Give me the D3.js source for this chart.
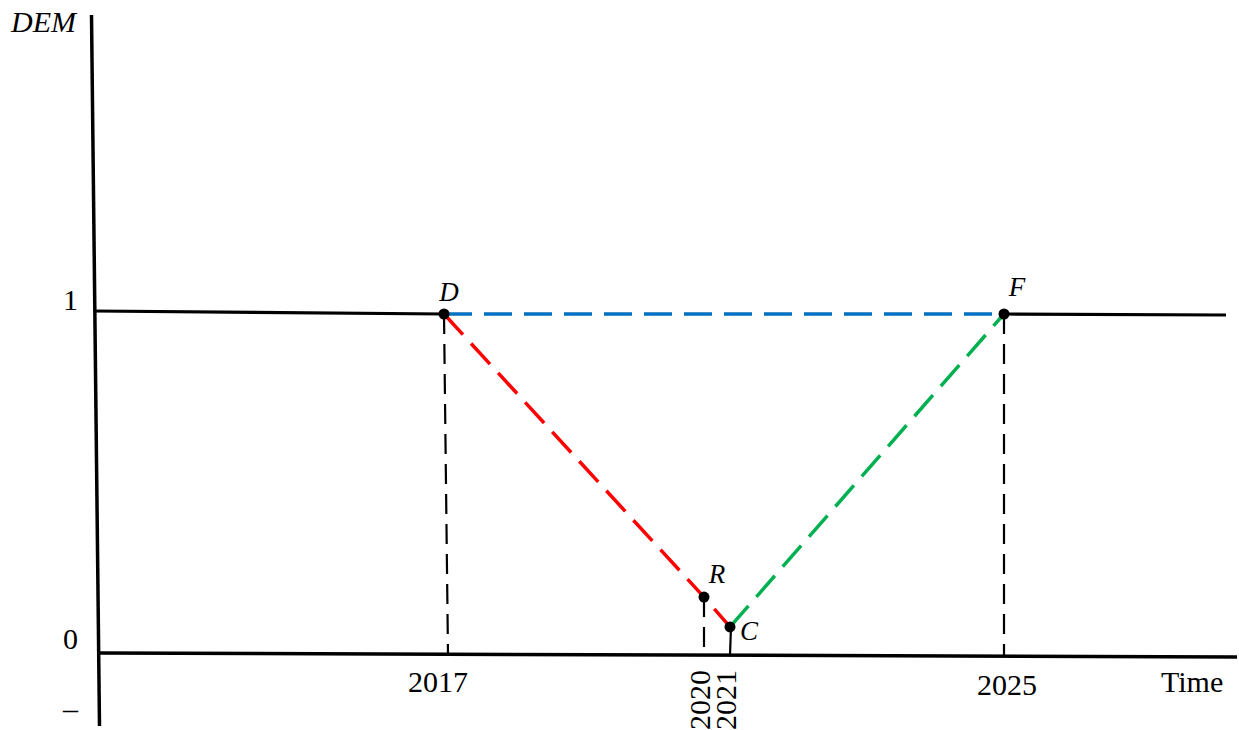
<!DOCTYPE html>
<html>
<head>
<meta charset="utf-8">
<script src="https://cdn.jsdelivr.net/npm/d3@7"></script>
<style>
  html, body { margin: 0; padding: 0; background: #fff; }
  svg { display: block; }
  text { font-family: "Liberation Serif", "Times New Roman", serif; fill: #000; }
</style>
</head>
<body>
<svg id="chart" width="1239" height="730"></svg>
<script>
// ---- data ----
const pointNames = ["D", "R", "C", "F"];
const pointYears = [2017, 2020, 2021, 2025];
const demValues  = [1, 0.165, 0.077, 1];
const xTickYears  = [2017, 2020, 2021, 2025];
const xTickLabels = ["2017", "2020", "2021", "2025"];
const xTickRotated = [false, true, true, false];
const yTickValues = [1, 0, -0.19];
const yTickLabels = ["1", "0", "\u2013"];
const yAxisTitle = "DEM";
const xAxisTitle = "Time";
const pointLabelOffsets = [[5, -13], [13, -14], [19, 13], [13, -18]];

// ---- scales (schematic, piecewise time axis) ----
const x = d3.scaleLinear().domain([2017, 2020, 2021, 2025]).range([444, 704, 730, 1004]);
const y = d3.scaleLinear().domain([0, 1]).range([653, 314]);

const svg = d3.select("#chart");
const pts = pointNames.map((n, i) => ({ name: n, year: pointYears[i], v: demValues[i], off: pointLabelOffsets[i] }));
const P = Object.fromEntries(pts.map(p => [p.name, p]));
const line = d3.line().x(d => x(d.year)).y(d => y(d.v));

// ---- axes frame ----
svg.append("line").attr("x1", 91.5).attr("y1", 15).attr("x2", 99.5).attr("y2", 726)
  .attr("stroke", "#000").attr("stroke-width", 3.5);
svg.append("line").attr("x1", 99).attr("y1", y(0)).attr("x2", 1237).attr("y2", y(0) + 4)
  .attr("stroke", "#000").attr("stroke-width", 3.5);

// solid level lines at DEM = 1
svg.append("line").attr("x1", 94).attr("y1", y(1) - 3).attr("x2", x(P.D.year)).attr("y2", y(1))
  .attr("stroke", "#000").attr("stroke-width", 3.2);
svg.append("line").attr("x1", x(P.F.year)).attr("y1", y(1)).attr("x2", 1226).attr("y2", y(1) + 1)
  .attr("stroke", "#000").attr("stroke-width", 3.2);

// vertical drop lines
["D", "R", "F"].forEach(n => {
  const p = P[n];
  svg.append("line")
    .attr("x1", x(p.year)).attr("y1", y(p.v))
    .attr("x2", x(p.year) + (n === "D" ? 4 : 0)).attr("y2", y(0) + 2)
    .attr("stroke", "#000").attr("stroke-width", 2.2).attr("stroke-dasharray", "20,10");
});
svg.append("line")
  .attr("x1", x(P.C.year) + 1).attr("y1", y(P.C.v))
  .attr("x2", x(P.C.year)).attr("y2", y(0) + 2)
  .attr("stroke", "#000").attr("stroke-width", 2.2);

// coloured dashed paths
svg.append("path").attr("d", line([P.D, P.F])).attr("fill", "none")
  .attr("stroke", "#0070C0").attr("stroke-width", 3.5).attr("stroke-dasharray", "28,12");
svg.append("path").attr("d", line([P.D, P.R, P.C])).attr("fill", "none")
  .attr("stroke", "#FF0000").attr("stroke-width", 3.5).attr("stroke-dasharray", "28,12");
svg.append("path").attr("d", line([P.C, P.F])).attr("fill", "none")
  .attr("stroke", "#00B050").attr("stroke-width", 3.5).attr("stroke-dasharray", "28,12");

// points
svg.selectAll("circle.pt").data(pts).enter().append("circle")
  .attr("class", "pt").attr("cx", d => x(d.year)).attr("cy", d => y(d.v)).attr("r", 5.5).attr("fill", "#000");

// point labels
svg.selectAll("text.pl").data(pts).enter().append("text")
  .attr("class", "pl")
  .attr("x", d => x(d.year) + d.off[0]).attr("y", d => y(d.v) + d.off[1])
  .attr("text-anchor", "middle").attr("font-style", "italic").attr("font-size", 27)
  .text(d => d.name);

// x tick labels
xTickYears.forEach((yr, i) => {
  if (xTickRotated[i]) {
    svg.append("text")
      .attr("transform", `translate(${x(yr) + 6},670) rotate(-90)`)
      .attr("text-anchor", "end").attr("font-size", 30)
      .text(xTickLabels[i]);
  } else {
    svg.append("text")
      .attr("x", x(yr) + (yr === 2017 ? -6 : 3)).attr("y", y(0) + 39 + (yr === 2025 ? 3 : 0))
      .attr("text-anchor", "middle").attr("font-size", 30)
      .text(xTickLabels[i]);
  }
});

// y tick labels
yTickValues.forEach((v, i) => {
  svg.append("text")
    .attr("x", 78).attr("y", y(v) - 4 + (i === 2 ? 6 : 0))
    .attr("text-anchor", "end").attr("font-size", 30)
    .text(yTickLabels[i]);
});

// axis titles
svg.append("text").attr("x", 11).attr("y", 32).attr("font-style", "italic").attr("font-size", 30).text(yAxisTitle);
svg.append("text").attr("x", 1161).attr("y", 692).attr("font-size", 30).text(xAxisTitle);
</script>
</body>
</html>
